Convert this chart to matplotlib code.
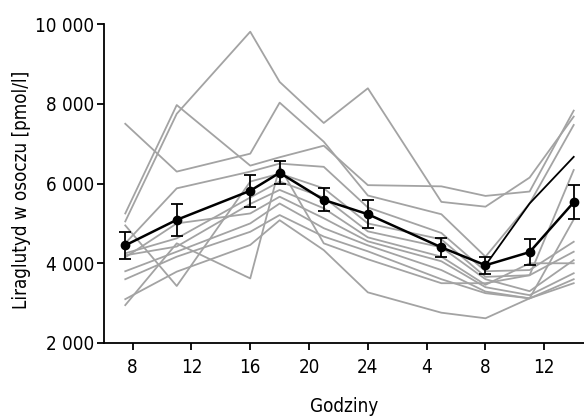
import matplotlib.pyplot as plt
from matplotlib.ticker import FuncFormatter

plt.rcParams["font.family"] = ["DejaVu Sans"]
plt.rcParams["font.stretch"] = "condensed"

# Hours since midnight of day 1 (28 = 4:00, 32 = 8:00 ... of day 2)
hours = [7.5, 11, 16, 18, 21, 24, 29, 32, 35, 38]

# Individual subjects (pmol/l)
subjects = [
    [5050, 7750, 9810, 8550, 7520, 8390, 5540, 5420, 6150, 7680],
    [5250, 7970, 6450, 6660, 6950, 5960, 5930, 5690, 5800, 7830],
    [7500, 6300, 6750, 8030, 7050, 5700, 5230, 4165, 5500, 7470],
    [4500, 5880, 6300, 6500, 6420, 5400, 4760, 3800, 3830, 4540],
    [4950, 3430, 6050, 6250, 5880, 5000, 4600, 3660, 3700, 4290],
    [4250, 4625, 5650, 6050, 5650, 4800, 4400, 3600, 3300, 4080],
    [4200, 4420, 5490, 5840, 5380, 4650, 4165, 3460, 4000, 4000],
    [4150, 5000, 5250, 5670, 5130, 4550, 4050, 3400, 3200, 3750],
    [3800, 4290, 5000, 5500, 4880, 4450, 3830, 3290, 3120, 3600],
    [3600, 4165, 4790, 5210, 4670, 4300, 3600, 3250, 3120, 5100],
    [3100, 3790, 4460, 5080, 4330, 3270, 2760, 2620, 3120, 3500],
    [2950, 4500, 3620, 6420, 4500, 4100, 3500, 3500, 3700, 6340],
]

# Subject shown in black (last three samples)
black_hours = [32, 35, 38]
black_values = [3950, 5500, 6670]

mean_values = [4450, 5090, 5820, 6270, 5590, 5230, 4400, 3950, 4280, 5530]
mean_err = [340, 400, 400, 290, 290, 355, 245, 220, 320, 425]

tick_pos = [8, 12, 16, 20, 24, 28, 32, 36]
tick_labels = ["8", "12", "16", "20", "24", "4", "8", "12"]

fig = plt.figure(figsize=(5.84, 4.16), dpi=100)
ax = fig.add_axes([0.178, 0.1755, 0.822, 0.7665])

for vals in subjects:
    ax.plot(hours, vals, color="#a3a3a3", lw=1.3, zorder=1)

ax.plot(black_hours, black_values, color="black", lw=1.3, zorder=2)

ax.errorbar(hours, mean_values, yerr=mean_err, color="black", lw=1.8,
            marker="o", ms=6, capsize=4.5, capthick=1.3, elinewidth=1.3,
            zorder=3)

ax.set_xlim(6.05, 38.7)
ax.set_ylim(2000, 10000)
ax.set_xticks(tick_pos, labels=tick_labels)
ax.set_yticks([2000, 4000, 6000, 8000, 10000])
ax.yaxis.set_major_formatter(FuncFormatter(lambda v, p: f"{int(v):,}".replace(",", " ")))

for side in ["top", "right"]:
    ax.spines[side].set_visible(False)
for side in ["left", "bottom"]:
    ax.spines[side].set_linewidth(1.3)
ax.tick_params(direction="out", length=5, width=1.3, labelsize=13.5)
ax.tick_params(axis="x", pad=6)
ax.tick_params(axis="y", pad=2)

ax.set_xlabel("Godziny", fontsize=13.5, labelpad=14)
ax.set_ylabel("Liraglutyd w osoczu [pmol/l]", fontsize=13.5)
ax.yaxis.set_label_coords(-0.152, 0.48)

fig.savefig("out.png", dpi=100)
